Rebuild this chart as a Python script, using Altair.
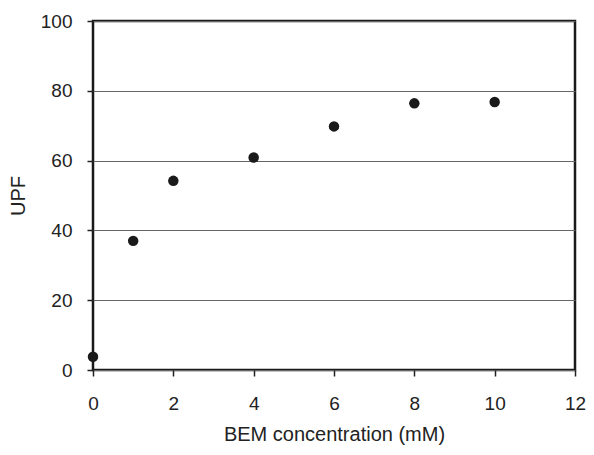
import altair as alt
import pandas as pd

bem_mM = [0, 1, 2, 4, 6, 8, 10]
upf = [3.8, 37.0, 54.2, 60.9, 69.8, 76.4, 76.8]

df = pd.DataFrame({"BEM": bem_mM, "UPF": upf})

FONT = "Liberation Sans"

chart = (
    alt.Chart(df)
    .mark_circle(size=110, color="#1a1a1a", opacity=1)
    .encode(
        x=alt.X(
            "BEM:Q",
            scale=alt.Scale(domain=[0, 12], nice=False),
            axis=alt.Axis(
                title="BEM concentration (mM)",
                values=[0, 2, 4, 6, 8, 10, 12],
                grid=False,
                tickSize=6,
                tickColor="#222",
                tickWidth=1.5,
                domain=False,
                labelFlush=False,
                labelBound=False,
                labelOverlap=False,
                labelFontSize=19,
                labelPadding=18,
                titleFontSize=20,
                titlePadding=11,
                labelColor="#222",
                titleColor="#222",
                titleFontWeight="normal",
                labelFont=FONT,
                titleFont=FONT,
            ),
        ),
        y=alt.Y(
            "UPF:Q",
            scale=alt.Scale(domain=[0, 100], nice=False),
            axis=alt.Axis(
                title="UPF",
                values=[0, 20, 40, 60, 80, 100],
                grid=True,
                gridColor="#666",
                gridWidth=1,
                tickSize=6,
                tickColor="#222",
                tickWidth=1.5,
                domain=False,
                labelFlush=False,
                labelBound=False,
                labelOverlap=False,
                labelFontSize=19,
                labelPadding=15,
                titleFontSize=20,
                titlePadding=12,
                labelColor="#222",
                titleColor="#222",
                titleFontWeight="normal",
                labelFont=FONT,
                titleFont=FONT,
            ),
        ),
    )
    .properties(
        width=482,
        height=349,
        autosize=alt.AutoSizeParams(type="none"),
        padding={"left": 85, "top": 13, "right": 11, "bottom": 77},
    )
    .configure_view(stroke="#1a1a1a", strokeWidth=2.5)
)

chart.save("out.html", embed_options={"renderer": "svg", "actions": False})
